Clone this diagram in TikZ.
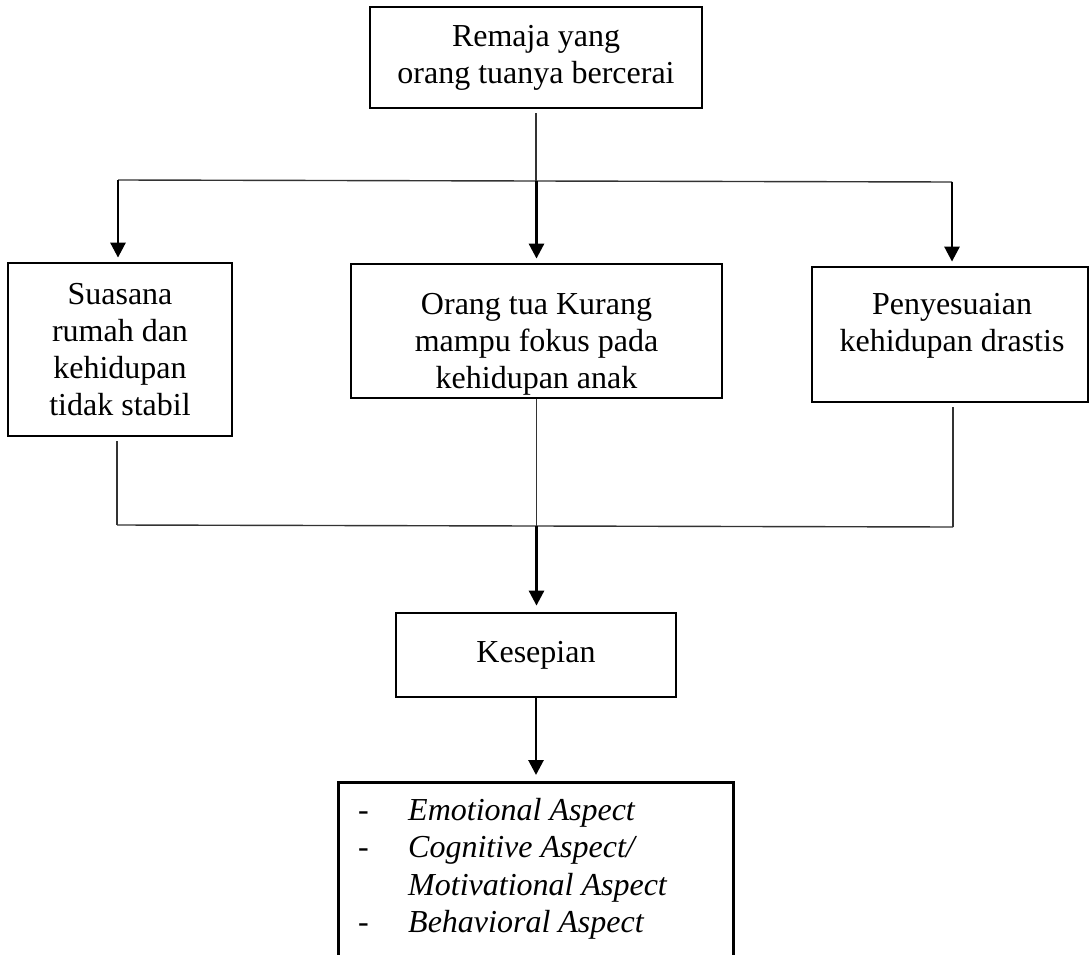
\documentclass[tikz,border=0pt]{standalone}
\usepackage{fontspec}
\setmainfont{Liberation Serif}
\usetikzlibrary{arrows.meta}
\begin{document}
\begin{tikzpicture}[x=1pt,y=-1pt,
  txt/.style={inner sep=0pt, align=center, font=\fontsize{32}{37}\selectfont},
  box/.style={draw, line width=2.8pt, txt},
  conn/.style={line width=1.4pt, black!80},
  arr/.style={line width=2.8pt, -{Triangle[width=15pt,length=15pt]}, shorten >=4pt}
]
\useasboundingbox (0,0) rectangle (1089,955);

\node[box, minimum width=332pt, minimum height=101pt] (top) at (536,57.5)
  {Remaja yang\\orang tuanya bercerai};
\node[box, minimum width=224pt, minimum height=173pt] (left) at (120,349.5)
  {Suasana\\rumah dan\\kehidupan\\tidak stabil};
\node[box, minimum width=371pt, minimum height=134pt] (mid) at (536.5,331) {};
\node[txt] (midtext) at (536.5,344)
  {Orang tua Kurang\\mampu fokus pada\\kehidupan anak};
\node[box, minimum width=276pt, minimum height=135pt] (right) at (950,334.5) {};
\node[txt] (righttext) at (952,326)
  {Penyesuaian\\kehidupan drastis};
\node[box, minimum width=280pt, minimum height=84pt] (kes) at (536,655)
  {Kesepian};
\node[box, minimum width=395pt, minimum height=200pt, anchor=north] (bot) at (536,781) {};
\node[anchor=base west, inner sep=0pt, font=\fontsize{32}{37.5}\selectfont] (list) at (358,820)
  {\begin{tabular}[t]{@{}p{50pt}@{}l@{}}
   - & \textit{Emotional Aspect}\\
   - & \textit{Cognitive Aspect/}\\
     & \textit{Motivational Aspect}\\
   - & \textit{Behavioral Aspect}
   \end{tabular}};

% upper connectors
\coordinate (j1) at (536.5,181);
\coordinate (jl) at (118,180);
\coordinate (jr) at (952,182);
\draw[conn, shorten <=4pt] (top.south) -- (top.south |- j1);
\draw[conn] (jl) -- (jr);
\draw[arr] (jl) -- (jl |- left.north);
\draw[arr] (j1) -- (j1 |- mid.north);
\draw[arr] (jr) -- (jr |- right.north);

% lower connectors
\coordinate (kl) at (117,525);
\coordinate (km) at (536.5,526);
\coordinate (kr) at (953,527);
\draw[conn, shorten <=4pt] (kl |- left.south) -- (kl);
\draw[conn] (km |- mid.south) -- (km);
\draw[conn, shorten <=4pt] (kr |- right.south) -- (kr);
\draw[conn] (kl) -- (kr);
\draw[arr, shorten >=6pt] (km) -- (km |- kes.north);
\draw[arr, shorten >=6pt] (kes.south) -- (kes.south |- bot.north);
\end{tikzpicture}
\end{document}
